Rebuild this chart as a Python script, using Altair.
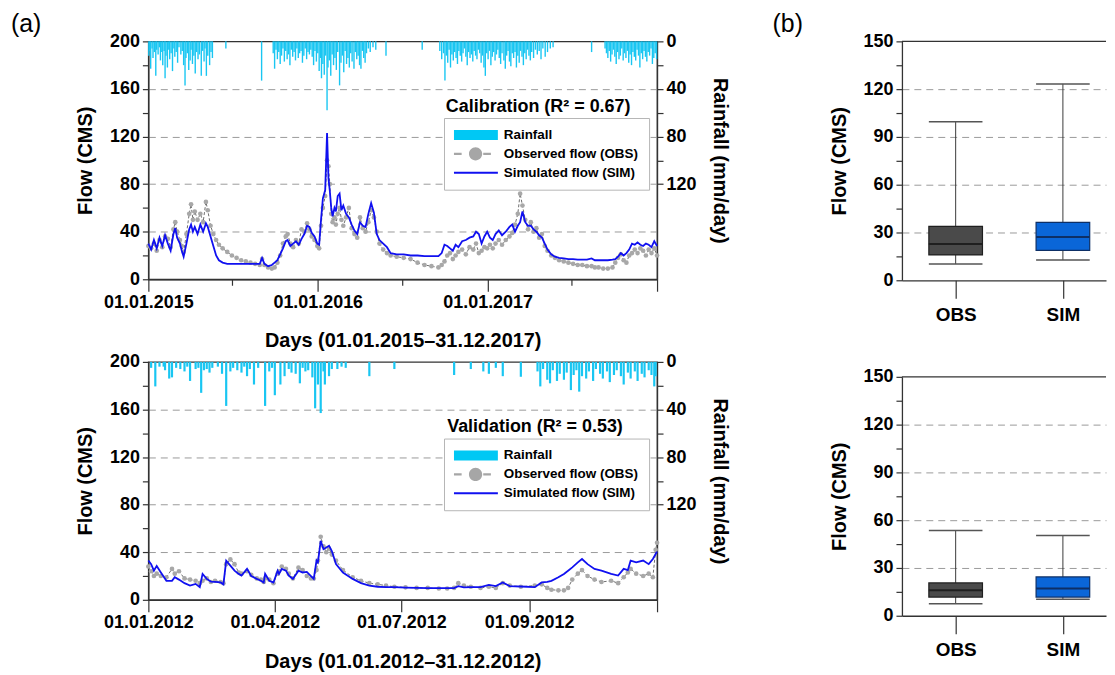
import altair as alt
import pandas as pd

FONT = "Liberation Sans"

# ---------------- calibration period (01.01.2015 - 31.12.2017), day index ----------------
cal_day = [0, 6, 12, 18, 24, 30, 36, 42, 48, 54, 58, 62, 68, 72, 76, 82, 88, 92, 96, 100,
           106, 112, 118, 124, 128, 134, 140, 146, 152, 160, 170, 180, 190, 200, 210, 220, 230, 240, 245, 250,
           258, 266, 272, 278, 284, 290, 296, 300, 306, 312, 318, 324, 330, 336, 342, 347, 352, 358, 364, 368,
           372, 376, 381, 385, 388, 391, 394, 397, 401, 404, 408, 412, 416, 420, 426, 432, 438, 444, 450, 456,
           462, 468, 474, 480, 486, 492, 498, 506, 514, 522, 535, 550, 565, 580, 595, 610, 625, 632, 638, 644,
           650, 656, 662, 668, 676, 684, 692, 700, 706, 712, 718, 724, 730, 736, 742, 748, 755, 762, 770, 778,
           784, 790, 796, 801, 806, 812, 818, 824, 830, 836, 842, 848, 854, 860, 868, 876, 885, 895, 905, 915,
           925, 935, 945, 955, 962, 970, 980, 990, 1000, 1006, 1012, 1018, 1024, 1030, 1036, 1042, 1048, 1054, 1060, 1066,
           1072, 1078, 1084, 1090, 1096]
cal_sim = [30, 25, 33, 26, 35, 28, 37, 30, 24, 38, 43, 35, 30, 24, 19, 30, 42, 46, 40, 44,
           38, 46, 40, 47, 44, 36, 28, 20, 16, 14, 13, 13, 13, 13, 13, 13, 13, 13, 18, 13,
           11, 12, 14, 16, 21, 26, 32, 33, 28, 30, 32, 29, 34, 38, 45, 44, 39, 36, 30, 29,
           50, 68, 75, 123, 85, 74, 60, 53, 60, 57, 70, 72, 58, 62, 55, 52, 46, 41, 38, 48,
           45, 44, 55, 64, 56, 38, 33, 30, 27, 22, 21, 21, 20, 20, 19.5, 19.5, 19.5, 22, 29, 28,
           26, 24, 29, 27, 32, 33, 35, 36, 40, 38, 30, 36, 40, 35, 33, 38, 41, 37, 40, 44,
           46, 40, 45, 48, 57, 48, 45, 45, 42, 40, 37, 35, 30, 25, 21, 19, 18, 17.5, 17, 17,
           16.5, 16.5, 16.5, 17.5, 16, 16, 16, 16, 16.5, 17, 19, 22, 20, 22, 25, 30, 29, 31, 29, 28,
           30, 29, 27, 32, 28]
cal_obs = [28, 26, 30, 24, 33, 27, 36, 34, 27, 42, 48, 40, 33, 28, 23, 38, 55, 63, 50, 57,
           50, 55, 48, 65, 58, 45, 38, 33, 29, 26, 23, 20, 18, 16, 15, 14, 13, 12, 17, 12,
           10, 9, 10, 14, 20, 30, 36, 38, 30, 27, 33, 30, 42, 40, 47, 42, 36, 33, 28, 26,
           45, 60, 70, 100, 95, 80, 55, 48, 52, 46, 55, 60, 50, 45, 52, 60, 43, 38, 35, 52,
           43, 40, 48, 58, 52, 40, 30, 25, 22, 20, 19, 18, 17, 14, 12, 11, 10, 12, 15, 20,
           22, 17, 20, 23, 25, 21, 27, 25, 30, 22, 24, 27, 26, 29, 26, 30, 33, 29, 33, 36,
           39, 46, 55, 72, 62, 50, 42, 48, 40, 43, 35, 38, 28, 24, 20, 18, 16, 15, 14, 13,
           12, 12, 11, 11, 10, 10, 9, 9, 10, 14, 18, 21, 16, 14, 20, 22, 25, 22, 26, 24,
           20, 25, 22, 26, 20]
cal_rain_day = [1, 3, 5, 8, 10, 13, 16, 18, 21, 24, 26, 29, 31, 34, 36, 38, 41, 44, 46, 49,
                52, 55, 57, 60, 63, 66, 70, 73, 76, 79, 81, 84, 87, 90, 92, 95, 98, 101, 104, 107,
                110, 114, 117, 120, 122, 125, 128, 132, 135, 138, 167, 244,
                269, 272, 275, 278, 281, 284, 287, 290, 293, 296, 299, 302, 305, 308, 311, 314, 317, 320,
                323, 326, 329, 332, 335, 338, 341, 344, 347, 350, 353, 356, 359, 362, 365, 368, 371, 373,
                376, 379, 382, 385, 387, 390, 393, 396, 399, 402, 405, 408, 412, 415, 418, 421, 424, 427,
                430, 433, 436, 439, 443, 446, 449, 452, 455, 458, 461, 464, 467, 470, 474, 478, 484, 490,
                512, 590,
                628, 632, 636, 639, 642, 645, 648, 651, 654, 657, 660, 663, 666, 669, 672, 675, 678, 681,
                684, 687, 690, 693, 696, 699, 702, 705, 708, 711, 714, 717, 720, 723, 726, 729, 732, 735,
                738, 741, 744, 747, 750, 753, 756, 759, 762, 766, 769, 772, 775, 778, 781, 784, 787, 790,
                793, 796, 799, 802, 805, 808, 811, 814, 817, 820, 823, 826, 830, 834, 838, 842, 846, 850,
                855, 860, 866, 872, 955,
                984, 987, 990, 993, 996, 999, 1002, 1005, 1008, 1011, 1014, 1017, 1020, 1023, 1026, 1029,
                1032, 1035, 1038, 1041, 1044, 1047, 1050, 1053, 1056, 1059, 1062, 1065, 1068, 1071, 1074,
                1077, 1080, 1083, 1086, 1089, 1092, 1095]
cal_rain_mm = [12, 8, 23, 6, 14, 9, 29, 7, 11, 5, 16, 9, 20, 8, 31, 12, 22, 7, 15, 10,
               25, 6, 13, 9, 18, 5, 11, 8, 20, 37, 14, 10, 24, 16, 7, 19, 12, 27, 9, 15,
               11, 29, 8, 17, 6, 29, 12, 20, 9, 14, 6, 33,
               10, 23, 7, 15, 9, 19, 12, 6, 17, 8, 15, 11, 20, 7, 13, 9, 16, 6,
               14, 10, 8, 18, 12, 6, 15, 9, 11, 7, 13, 20, 8, 17, 10, 25, 14, 31,
               19, 28, 12, 58, 22, 16, 29, 11, 20, 14, 24, 9, 37, 18, 12, 26, 8, 19,
               14, 22, 10, 17, 23, 9, 15, 12, 20, 23, 8, 14, 18, 10, 6, 9, 5, 7,
               12, 7,
               8, 15, 10, 33, 12, 18, 7, 22, 11, 16, 9, 14, 19, 8, 12, 17, 10, 6,
               13, 20, 9, 14, 11, 17, 8, 12, 15, 7, 10, 18, 12, 22, 29, 10, 15, 8,
               20, 13, 9, 16, 11, 7, 14, 19, 10, 16, 23, 12, 8, 17, 21, 10, 14, 9,
               22, 12, 18, 8, 13, 20, 10, 15, 7, 12, 16, 9, 14, 7, 11, 8, 15, 6,
               13, 9, 6, 5, 9,
               6, 10, 14, 8, 17, 11, 7, 13, 19, 9, 15, 12, 6, 16, 10, 14,
               8, 18, 11, 20, 9, 13, 16, 7, 12, 22, 10, 15, 8, 13, 17,
               9, 12, 6, 19, 14, 10, 15]

# ---------------- validation period (01.01.2012 - 31.12.2012), day index ----------------
val_day = [0, 2, 4, 6, 9, 13, 17, 19, 22, 26, 30, 34, 37, 39, 42, 45, 48, 52, 54, 56,
           59, 62, 65, 67, 71, 74, 78, 81, 83, 84, 87, 90, 93, 94, 96, 99, 101, 104, 108, 111,
           114, 117, 119, 121, 122, 124, 126, 128, 130, 132, 135, 140, 147, 153, 159, 165, 171, 177, 185, 193,
           201, 209, 215, 220, 223, 227, 232, 239, 245, 250, 255, 260, 268, 278, 283, 287, 290, 295, 299, 302,
           305, 309, 312, 316, 321, 326, 333, 338, 342, 345, 347, 351, 356, 360, 363, 365, 366]
val_sim = [33, 30, 24.5, 28.5, 23, 16, 16, 19, 17, 14, 12, 13.4, 10.6, 21.8, 17.6, 15.3, 15, 14.6, 13, 32.9,
           28.7, 24.5, 21.8, 20.4, 26, 20, 17.6, 16, 14.6, 21.8, 16, 14.6, 24.5, 21.8, 26, 24.5, 20.4, 17.6, 24.5, 23,
           23.5, 20, 17.6, 33, 31.5, 49.6, 42.6, 44, 45.5, 41, 30, 23, 17.6, 14, 12, 11, 10.6, 10.6, 10.3, 10,
           9.8, 9.8, 9.8, 9.8, 11.5, 10.5, 10.6, 10.6, 12.6, 11.5, 14.6, 11.5, 11.2, 10.6, 14.6, 15, 16, 18.9, 21.8, 24.5,
           27.3, 31.5, 34.3, 30, 26, 24.5, 21.8, 20.4, 26, 25, 33, 31.5, 33, 30, 34.3, 38.5, 40.5]
val_obs = [28, 24, 20, 22, 20, 19, 26, 22, 24, 18, 17, 16, 14, 16, 18, 15, 16, 15, 14, 30,
           34, 30, 23, 22, 24, 21, 18, 17, 15, 18, 17, 14, 22, 24, 28, 26, 22, 18, 27, 25,
           20, 18, 18, 25, 33, 53, 45, 40, 43, 38, 33, 25, 19, 16, 14, 13, 12, 11, 10.5, 10,
           10, 9.5, 9.5, 10, 14, 12, 11, 10, 11, 10, 14, 12, 11, 12, 13, 10, 8.5, 8, 8, 10,
           17, 22, 25, 20, 17, 15, 16, 14, 19, 23, 26, 22, 20, 22, 19, 42, 48]
val_rain_day = [2, 5, 8, 11, 12, 15, 17, 20, 23, 26, 28, 30, 34, 36, 38, 40, 42, 44, 46, 50,
                53, 56, 59, 61, 64, 67, 69, 71, 73, 76, 79, 84, 87, 89, 91, 95, 98, 101, 103, 106,
                109, 111, 113, 115, 118, 120, 122, 124, 126, 127, 130, 132, 136, 139, 142, 159,
                177, 220, 232, 241, 245, 250, 255, 268,
                280, 282, 284, 287, 289, 291, 294, 296, 299, 301, 304, 306, 308, 310, 312, 315, 317, 320,
                322, 325, 327, 330, 332, 335, 337, 340, 342, 345, 347, 350, 352, 355, 357, 360, 362, 364, 365]
val_rain_mm = [5, 20.6, 4, 4, 7, 14, 13, 5, 6, 8, 4, 16, 6, 5, 26, 7, 6, 9, 5, 4,
               10, 37, 8, 5, 7, 9, 4, 12, 6, 19, 5, 37, 8, 5, 28, 19, 12, 6, 9, 10,
               18, 5, 8, 7, 13, 39, 19, 43, 8, 19, 12, 6, 6, 4, 5, 12,
               6, 11, 6, 8, 10, 5, 12, 12.5,
               8, 20.6, 6, 15, 18, 7, 16, 10, 15, 9, 23.7, 11, 7, 25, 12, 14, 8, 16,
               6, 10, 14, 8, 17, 11, 7, 12, 19, 9, 14, 8, 16, 10, 13, 7, 11, 20.6, 12]

# ---------------- axis ticks ----------------
cal_tick_days = [0, 181, 365, 546, 731, 912, 1096]
cal_tick_labels = ["01.01.2015", "", "01.01.2016", "", "01.01.2017", "", ""]
cal_major_days = [0, 365, 731, 1096]
val_tick_days = [0, 91, 182, 274, 366]
val_tick_labels = ["01.01.2012", "01.04.2012", "01.07.2012", "01.09.2012", ""]

# ---------------- box plot statistics ----------------
box_groups = ["OBS", "SIM"]
cal_box_low = [10.2, 12.7]
cal_box_q1 = [15.9, 18.8]
cal_box_med = [22.8, 27.2]
cal_box_q3 = [33.9, 36.4]
cal_box_high = [99.5, 123.3]
val_box_low = [7.5, 10.4]
val_box_q1 = [11.7, 11.7]
val_box_med = [16.0, 17.1]
val_box_q3 = [20.6, 24.4]
val_box_high = [53.6, 50.4]
box_fill = ["#4a4a4a", "#0a66d8"]
box_edge = ["#1f1f1f", "#0d2f66"]

legend_items = ["Rainfall", "Observed flow (OBS)", "Simulated flow (SIM)"]
legend_colors = ["#00c8f4", "#a6a6a6", "#1010f0"]
# symbol paths in units of 7 px (symbolSize 196 -> 14 px), drawn 44 px wide to the right
legend_paths = [
    "M-1,-0.72H5.3V0.72H-1Z",
    "M-1,-0.15H0.1V0.15H-1Z M3.2,-0.15H4.3V0.15H3.2Z M1.15,0A0.95,0.95 0 1 0 3.05,0A0.95,0.95 0 1 0 1.15,0Z",
    "M-1,-0.14H5.3V0.14H-1Z",
]

RAIN_C = "#19c6f2"
SIM_C = "#1010f0"
OBS_C = "#a8a8a8"
AX_C = "#333333"


def label_expr(vals, labels):
    expr = "''"
    for v, l in reversed(list(zip(vals, labels))):
        expr = f"datum.value == {v} ? '{l}' : ({expr})"
    return expr


def ts_chart(days, sim, obs, rain_day, rain_mm, xmax, tick_vals, tick_labels, major, xtitle,
             annot_day, annot_text, panel, rain_w):
    flow_df = pd.DataFrame({"day": days, "sim": sim, "obs": obs})
    rain_df = pd.DataFrame({"day": rain_day, "rain": rain_mm})
    annot_df = pd.DataFrame({"day": [annot_day], "flow": [145], "txt": [annot_text]})
    leg_df = pd.DataFrame({"item": legend_items})

    xaxis = alt.Axis(
        values=tick_vals, labelExpr=label_expr(tick_vals, tick_labels), title=xtitle,
        tickSize={"condition": {"test": "indexof(" + str(major) + ", datum.value) >= 0", "value": 12}, "value": 6},
        labelPadding=2, titlePadding=20, grid=False, labelFlush=False, labelOverlap=False,
    )
    xenc = alt.X("day:Q", scale=alt.Scale(domain=[0, xmax], nice=False, zero=False), axis=xaxis)

    fscale = alt.Scale(domain=[0, 200], nice=False)
    faxis = alt.Axis(
        values=list(range(0, 201, 20)), labelExpr="datum.value % 40 == 0 ? datum.label : ''",
        title="Flow (CMS)", tickSize=6, labelPadding=3, titlePadding=14, grid=True,
        gridDash=[7, 5], gridColor="#9a9a9a",
        gridOpacity={"condition": {"test": "datum.value % 40 == 0 && datum.value > 0 && datum.value < 200", "value": 1}, "value": 0},
    )

    rain = alt.Chart(rain_df).transform_calculate(zero="0").mark_rule(
        color=RAIN_C, strokeWidth=rain_w
    ).encode(
        x=xenc,
        y=alt.Y("rain:Q", scale=alt.Scale(domain=[0, 200], reverse=True, nice=False),
                axis=alt.Axis(orient="right", values=list(range(0, 121, 20)),
                              labelExpr="datum.value % 40 == 0 ? datum.label : ''",
                              title="Rainfall (mm/day)", tickSize=6, labelPadding=3,
                              titlePadding=14, grid=False)),
        y2="zero:Q",
    )

    obs_line = alt.Chart(flow_df).mark_line(color="#6e6e6e", strokeWidth=1, strokeDash=[3, 2]).encode(
        x=xenc, y=alt.Y("obs:Q", scale=fscale, axis=faxis))
    obs_pts = alt.Chart(flow_df).mark_point(filled=True, color=OBS_C, size=22, opacity=1).encode(
        x=xenc, y=alt.Y("obs:Q", scale=fscale, axis=faxis))
    sim_line = alt.Chart(flow_df).mark_line(color=SIM_C, strokeWidth=1.8).encode(
        x=xenc, y=alt.Y("sim:Q", scale=fscale, axis=faxis))
    annot = alt.Chart(annot_df).mark_text(
        align="left", baseline="middle", font=FONT, fontSize=18, fontWeight="bold", color="black"
    ).encode(x=xenc, y=alt.Y("flow:Q", scale=fscale, axis=faxis), text="txt:N")

    leg = alt.Legend(
        orient="none", legendX=297, legendY=77, title=None, direction="vertical",
        symbolSize=196, symbolStrokeWidth=0, symbolOpacity=1,
        labelFont=FONT, labelFontSize=13.5, labelFontWeight="bold", labelColor="black",
        strokeColor="#b5b5b5", fillColor="white", padding=10, rowPadding=5, labelOffset=36,
        labelLimit=400,
    )
    legend_layer = alt.Chart(leg_df).mark_point(filled=True, opacity=0).encode(
        color=alt.Color("item:N", scale=alt.Scale(domain=legend_items, range=legend_colors), legend=leg),
        shape=alt.Shape("item:N", scale=alt.Scale(domain=legend_items, range=legend_paths), legend=leg),
    )

    layers = [obs_line, obs_pts, sim_line, annot, legend_layer]
    if panel:
        plabel = alt.Chart(pd.DataFrame({"t": [panel]})).mark_text(
            align="left", baseline="middle", font=FONT, fontSize=25, color="black"
        ).encode(x=alt.value(-138), y=alt.value(-17), text="t:N")
        layers.append(plabel)
    flow_layer = alt.layer(*layers)
    return alt.layer(rain, flow_layer).resolve_scale(y="independent").properties(width=511, height=239)


def box_chart(low, q1, med, q3, high, panel):
    df = pd.DataFrame({"grp": box_groups, "idx": list(range(len(box_groups))),
                       "low": low, "q1": q1, "med": med, "q3": q3, "high": high})
    base = alt.Chart(df).transform_calculate(left="datum.idx - 0.25", right="datum.idx + 0.25")
    xscale = alt.Scale(domain=[-0.501, 1.402], nice=False, zero=False)
    xaxis = alt.Axis(values=list(range(len(box_groups))),
                     labelExpr=label_expr(list(range(len(box_groups))), box_groups),
                     title=None, grid=False, tickSize=18, labelPadding=7, labelFontSize=19)
    yscale = alt.Scale(domain=[0, 150], nice=False)
    yaxis = alt.Axis(
        values=list(range(0, 151, 15)), labelExpr="datum.value % 30 == 0 ? datum.label : ''",
        title="Flow (CMS)", tickSize=6, labelPadding=3, titlePadding=14, grid=True,
        gridDash=[7, 5], gridColor="#9a9a9a",
        gridOpacity={"condition": {"test": "datum.value % 30 == 0 && datum.value > 0 && datum.value < 150", "value": 1}, "value": 0},
    )
    fill = alt.Fill("grp:N", scale=alt.Scale(domain=box_groups, range=box_fill), legend=None)
    edge = alt.Stroke("grp:N", scale=alt.Scale(domain=box_groups, range=box_edge), legend=None)

    whisk = base.mark_rule(color="#3a3a3a", strokeWidth=1).encode(
        x=alt.X("idx:Q", scale=xscale, axis=xaxis),
        y=alt.Y("low:Q", scale=yscale, axis=yaxis), y2="high:Q")
    box = base.mark_bar(strokeWidth=1.2).encode(
        x=alt.X("left:Q", scale=xscale, axis=xaxis), x2="right:Q",
        y=alt.Y("q1:Q", scale=yscale, axis=yaxis), y2="q3:Q", fill=fill, stroke=edge)
    median = base.mark_rule(strokeWidth=2).encode(
        x=alt.X("left:Q", scale=xscale, axis=xaxis), x2="right:Q",
        y=alt.Y("med:Q", scale=yscale, axis=yaxis), color=alt.Color("grp:N", scale=alt.Scale(domain=box_groups, range=box_edge), legend=None))
    cap_lo = base.mark_rule(color="#555555", strokeWidth=1.5).encode(
        x=alt.X("left:Q", scale=xscale, axis=xaxis), x2="right:Q",
        y=alt.Y("low:Q", scale=yscale, axis=yaxis))
    cap_hi = base.mark_rule(color="#555555", strokeWidth=1.5).encode(
        x=alt.X("left:Q", scale=xscale, axis=xaxis), x2="right:Q",
        y=alt.Y("high:Q", scale=yscale, axis=yaxis))
    top = alt.Chart(pd.DataFrame({"top": [150]})).mark_rule(color=AX_C, strokeWidth=1.3).encode(
        y=alt.Y("top:Q", scale=yscale, axis=yaxis))
    layers = [whisk, box, median, cap_lo, cap_hi, top]
    if panel:
        plabel = alt.Chart(pd.DataFrame({"t": [panel]})).mark_text(
            align="left", baseline="middle", font=FONT, fontSize=25, color="black"
        ).encode(x=alt.value(-130), y=alt.value(-17), text="t:N")
        layers.append(plabel)
    return alt.layer(*layers).properties(width=205, height=240, view=alt.ViewBackground(strokeOpacity=0))


cal = ts_chart(cal_day, cal_sim, cal_obs, cal_rain_day, cal_rain_mm, 1096, cal_tick_days, cal_tick_labels,
               cal_major_days, "Days (01.01.2015\u201331.12.2017)", 641, "Calibration (R\u00b2 = 0.67)", "(a)", 1.4)
val = ts_chart(val_day, val_sim, val_obs, val_rain_day, val_rain_mm, 366, val_tick_days, val_tick_labels,
               val_tick_days, "Days (01.01.2012\u201331.12.2012)", 215, "Validation (R\u00b2 = 0.53)", None, 2.2)

box_cal = box_chart(cal_box_low, cal_box_q1, cal_box_med, cal_box_q3, cal_box_high, "(b)")
box_val = box_chart(val_box_low, val_box_q1, val_box_med, val_box_q3, val_box_high, None)

left = alt.vconcat(cal, val, spacing=0).resolve_scale(color="independent", shape="independent")
right = alt.vconcat(box_cal, box_val, spacing=44).resolve_scale(color="independent", fill="independent", stroke="independent")

chart = alt.hconcat(left, right, spacing=42).resolve_scale(
    color="independent", shape="independent", fill="independent", stroke="independent"
).properties(
    padding={"left": 2, "top": 2, "right": 0, "bottom": 0}
).configure_view(
    stroke=AX_C, strokeWidth=1.3
).configure_axis(
    labelFont=FONT, labelFontSize=18, labelFontWeight="bold", labelColor="black",
    titleFont=FONT, titleFontSize=20, titleFontWeight="bold", titleColor="black",
    domainColor=AX_C, tickColor=AX_C, domainWidth=1.3, tickWidth=1.2,
).configure_text(font=FONT)

chart.save("out.html", embed_options={"renderer": "svg", "actions": False})
